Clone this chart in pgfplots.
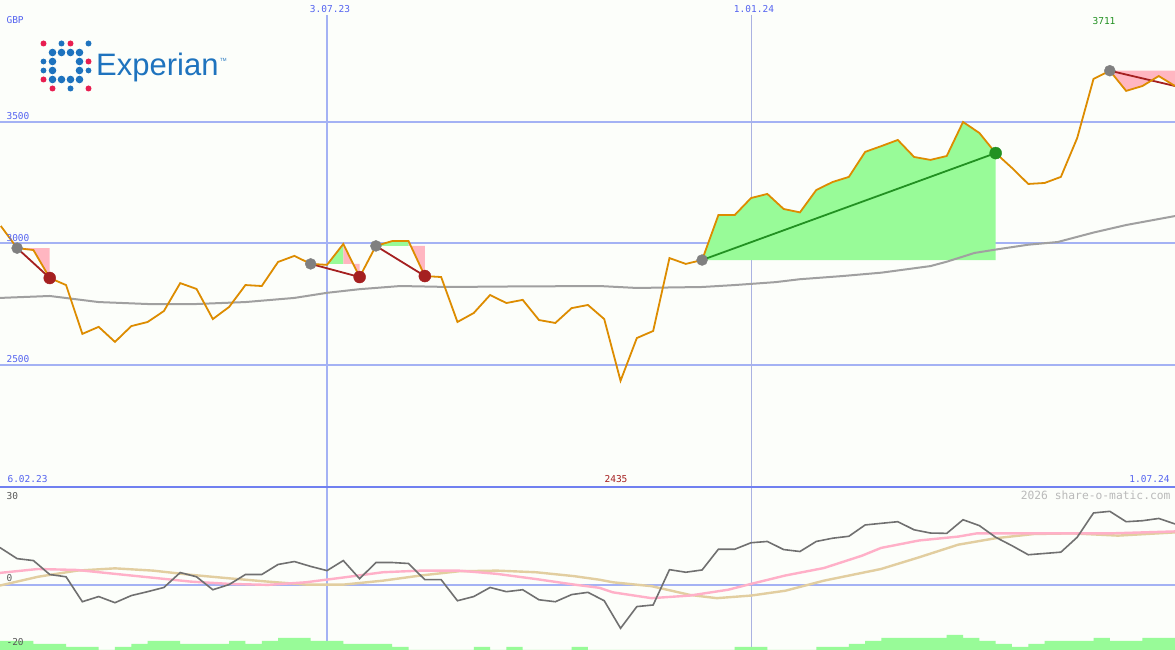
\documentclass[border=0pt]{standalone}
\usepackage{pgfplots}
\usepackage{pgfplotstable}
\usepackage{fontspec}
\pgfplotsset{compat=1.18}
\newfontfamily\mono{DejaVu Sans Mono}
\newfontfamily\logofont{Liberation Sans}
\newcommand\lab{\mono\fontsize{9.5}{10}\selectfont}

\definecolor{bgc}{RGB}{252,254,250}
\definecolor{gridc}{RGB}{164,178,244}
\definecolor{vgrid}{RGB}{170,178,225}
\definecolor{sepc}{RGB}{112,128,240}
\definecolor{labc}{RGB}{85,100,240}
\definecolor{pricec}{RGB}{221,140,0}
\definecolor{mac}{RGB}{160,160,160}
\definecolor{winfill}{RGB}{152,251,152}
\definecolor{lossfill}{RGB}{255,182,193}
\definecolor{winline}{RGB}{34,145,34}
\definecolor{lossline}{RGB}{165,32,32}
\definecolor{entryc}{RGB}{128,128,128}
\definecolor{oscc}{RGB}{112,112,112}
\definecolor{sigc}{RGB}{255,176,200}
\definecolor{slowc}{RGB}{226,206,160}
\definecolor{logoblue}{RGB}{30,115,190}
\definecolor{logored}{RGB}{232,30,80}

% weekly close, week 21 = 3.07.23, week 47 = 1.01.24
\pgfplotstableread{
w p
1 3072
2 2981
3 2973
4 2858
5 2829
6 2628
7 2657
8 2595
9 2660
10 2677
11 2722
12 2837
13 2813
14 2689
15 2739
16 2829
17 2825
18 2924
19 2949
20 2916
21 2912
22 2998
23 2862
24 2990
25 3010
26 3010
27 2866
28 2862
29 2677
30 2714
31 2788
32 2755
33 2768
34 2685
35 2673
36 2734
37 2747
38 2689
39 2435
40 2611
41 2640
42 2940
43 2916
44 2932
45 3117
46 3117
47 3187
48 3204
49 3142
50 3128
51 3220
52 3253
53 3274
54 3377
55 3401
56 3426
57 3356
58 3344
59 3360
60 3500
61 3455
62 3372
63 3311
64 3245
65 3249
66 3274
67 3434
68 3677
69 3711
70 3628
71 3648
72 3689
73 3648
}\price

% moving average
\pgfplotstableread{
w m
0.95 2776
4 2784
7 2759
10 2751
13 2751
16 2759
19 2776
21 2797
23 2812
25.5 2825
28.5 2821
32 2823
37.7 2825
40 2817
44 2821
46 2829
48.5 2841
50 2853
52.6 2866
55 2880
58 2907
59 2925
60.7 2961
62 2975
64 2995
65.8 3006
68 3045
70 3076
73 3113
}\mavg

% oscillator
\pgfplotstableread{
w o
0.95 11.6
2 8.2
3 7.6
4 3.3
5 2.6
6 -5.1
7 -3.5
8 -5.4
9 -3.2
10 -2.0
11 -0.7
12 3.9
13 2.6
14 -1.4
15 0.2
16 3.3
17 3.3
18 6.4
19 7.3
20 5.8
21 4.5
22 7.6
23 2.0
24 7.0
25 7.0
26 6.7
27 1.7
28 1.7
29 -4.8
30 -3.5
31 -0.7
32 -2.0
33 -1.4
34 -4.5
35 -5.1
36 -2.9
37 -2.2
38 -4.8
39 -13.3
40 -6.6
41 -6.1
42 4.8
43 4.0
44 4.7
45 11.1
46 11.1
47 13.1
48 13.5
49 11.0
50 10.4
51 13.5
52 14.5
53 15.1
54 18.6
55 19.1
56 19.6
57 17.1
58 16.1
59 16.0
60 20.2
61 18.4
62 14.8
63 12.2
64 9.4
65 9.8
66 10.2
67 14.8
68 22.3
69 22.8
70 19.6
71 19.9
72 20.6
73 18.9
}\osc

\pgfplotstableread{
w s
0.95 3.8
3.28 5.0
5.67 4.7
8.0 3.5
10.33 2.3
12.66 1.1
15.05 0.4
17.38 0.1
19.7 0.9
22.04 2.4
24.43 4.0
26.76 4.5
29.09 4.5
31.42 3.5
33.81 1.9
36.14 0.2
37.7 -0.8
38.53 -2.2
40.9 -4.0
43.25 -3.2
45.6 -1.4
47 0.4
49.11 3.0
51.47 5.3
53.8 9.1
54.97 11.5
57.3 13.8
59.7 15.0
60.85 16.0
64.35 16.0
69.07 16.0
73 16.6
}\sig

\pgfplotstableread{
w s
0.95 -0.1
3.28 2.6
5.67 4.5
8.0 5.2
10.33 4.5
12.66 3.2
15.05 2.1
17.38 1.1
19.7 0.2
22.04 0.2
24.43 1.4
26.76 3.0
29.09 4.3
31.42 4.5
33.81 4.0
36.14 2.8
37.7 1.7
38.53 0.9
40.9 -0.3
43.25 -3.0
44.9 -4.0
47 -3.2
49.11 -1.7
51.47 1.4
54.97 5.0
57.3 8.6
59.7 12.5
62.0 14.5
64.35 15.8
66.7 16.0
69.5 15.3
73 16.3
}\slow

% bottom histogram, in steps
\pgfplotstableread{
w h
0.95 3
3 2
5 1
7 0
8 1
9 2
10 3
12 2
15 3
16 2
17 3
18 4
20 3
22 2
25 1
26 0
30 1
31 0
32 1
33 0
36 1
37 0
46 1
48 0
51 1
53 2
54 3
55 4
59 5
60 4
61 3
62 2
63 1
64 2
65 3
68 4
69 3
71 4
73 4
}\hist

\pgfplotsset{panel/.style={scale only axis, hide axis, width=1175pt,
  xmin=0.95, xmax=73, anchor=south west}}

\begin{document}
\begin{tikzpicture}
\fill[bgc] (0pt,0pt) rectangle (1175pt,650pt);
% grid
\foreach \yy in {528,406.5,285,65}{
  \draw[gridc, line width=2pt] (0pt,\yy pt) -- (1175pt,\yy pt);}
\draw[gridc, line width=1.6pt] (327pt,0pt) -- (327pt,635pt);
\draw[vgrid, line width=1pt] (751pt,0pt) -- (751pt,635pt);
\draw[sepc, line width=2pt] (0pt,163pt) -- (1175pt,163pt);

% logo
\foreach \c/\r/\col/\rad in {0/0/logored/3.0,2/0/logoblue/3.0,3/0/logored/3.0,5/0/logoblue/3.0,
  1/1/logoblue/3.8,2/1/logoblue/3.8,3/1/logoblue/3.8,4/1/logoblue/3.8,
  0/2/logoblue/2.9,1/2/logoblue/3.8,4/2/logoblue/3.8,5/2/logored/3.0,
  0/3/logoblue/2.9,1/3/logoblue/3.8,4/3/logoblue/3.8,5/3/logoblue/2.9,
  0/4/logored/3.0,1/4/logoblue/3.8,2/4/logoblue/3.8,3/4/logoblue/3.8,4/4/logoblue/3.8,
  1/5/logored/3.0,3/5/logoblue/3.0,5/5/logored/3.0}{
  \fill[\col] ({43.5pt+9pt*\c},{606.5pt-9pt*\r}) circle (\rad pt);}
\node[anchor=base west, inner sep=0pt, text=logoblue] at (96pt,574.5pt)
  {\logofont\fontsize{31}{31}\selectfont Experian};
\node[anchor=west, inner sep=0pt, text=logoblue] at (220pt,590pt)
  {\logofont\fontsize{4.5}{5}\selectfont TM};

% price panel
\begin{axis}[panel, at={(0pt,163pt)}, height=487pt, ymin=1998, ymax=4002]
\addplot[fill=lossfill, draw=none] coordinates {(2,2981)(3,2973)(4,2858)(4,2981)} --cycle;
\addplot[fill=lossfill, draw=none] coordinates {(20,2916)(21,2912)(21,2916)} --cycle;
\addplot[fill=winfill, draw=none] coordinates {(21,2916)(22,2998)(22,2916)} --cycle;
\addplot[fill=lossfill, draw=none] coordinates {(22,2916)(22,2998)(23,2862)(23,2916)} --cycle;
\addplot[fill=winfill, draw=none] coordinates {(24,2990)(25,3010)(26,3010)(26,2990)} --cycle;
\addplot[fill=lossfill, draw=none] coordinates {(26,2990)(26,3010)(27,2866)(27,2990)} --cycle;
\addplot[fill=winfill, draw=none] coordinates {(44,2932)(45,3117)(46,3117)(47,3187)(48,3204)
  (49,3142)(50,3128)(51,3220)(52,3253)(53,3274)(54,3377)(55,3401)(56,3426)(57,3356)
  (58,3344)(59,3360)(60,3500)(61,3455)(62,3372)(62,2932)} --cycle;
\addplot[fill=lossfill, draw=none] coordinates {(69,3711)(70,3628)(71,3648)(72,3689)(73,3648)(73,3711)} --cycle;
\addplot[mac, line width=2pt] table[x=w, y=m] {\mavg};
\addplot[only marks, mark=*, mark size=5.5pt, entryc] coordinates {(2,2981)(20,2916)(24,2990)(44,2932)(69,3711)};
\addplot[only marks, mark=*, mark size=6pt, lossline] coordinates {(4,2858)(23,2862)(27,2866)};
\addplot[only marks, mark=*, mark size=6pt, winline] coordinates {(62,3372)};
\addplot[lossline, line width=1.8pt] coordinates {(2,2981)(4,2858)};
\addplot[lossline, line width=1.8pt] coordinates {(20,2916)(23,2862)};
\addplot[lossline, line width=1.8pt] coordinates {(24,2990)(27,2866)};
\addplot[lossline, line width=1.8pt] coordinates {(69,3711)(73,3648)};
\addplot[winline, line width=1.8pt] coordinates {(44,2932)(62,3372)};
\addplot[pricec, line width=1.8pt] table[x=w, y=p] {\price};
\end{axis}

% histogram
\begin{axis}[panel, at={(0pt,0pt)}, height=162pt, ymin=0, ymax=54]
\addplot[const plot, fill=winfill, draw=none] table[x=w, y=h] {\hist} \closedcycle;
\end{axis}

% oscillator panel
\begin{axis}[panel, at={(0pt,0pt)}, height=162pt, ymin=-20, ymax=30]
\addplot[slowc, line width=2.4pt] table[x=w, y=s] {\slow};
\addplot[sigc, line width=2.4pt] table[x=w, y=s] {\sig};
\addplot[oscc, line width=1.6pt] table[x=w, y=o] {\osc};
\end{axis}

% labels
\node[anchor=west, text=labc] at (3pt,630pt) {\lab GBP};
\node[anchor=west, text=labc] at (3pt,534pt) {\lab 3500};
\node[anchor=west, text=labc] at (3pt,412pt) {\lab 3000};
\node[anchor=west, text=labc] at (3pt,291pt) {\lab 2500};
\node[text=labc] at (330pt,641pt) {\lab 3.07.23};
\node[text=labc] at (754pt,641pt) {\lab 1.01.24};
\node[text=winline] at (1104pt,629pt) {\lab 3711};
\node[anchor=west, text=labc] at (4pt,171pt) {\lab 6.02.23};
\node[text=lossline] at (616pt,171pt) {\lab 2435};
\node[anchor=east, text=labc] at (1173pt,171pt) {\lab 1.07.24};
\node[anchor=west, text=black!65] at (3pt,154pt) {\lab 30};
\node[anchor=west, text=black!65] at (3pt,72pt) {\lab 0};
\node[anchor=west, text=black!65] at (3pt,8pt) {\lab -20};
\node[anchor=east, text=black!27] at (1174pt,155pt)
  {\mono\fontsize{11.3}{12}\selectfont 2026 share-o-matic.com};

\pgfresetboundingbox
\path[use as bounding box] (0pt,0pt) rectangle (1175pt,650pt);
\end{tikzpicture}
\end{document}
